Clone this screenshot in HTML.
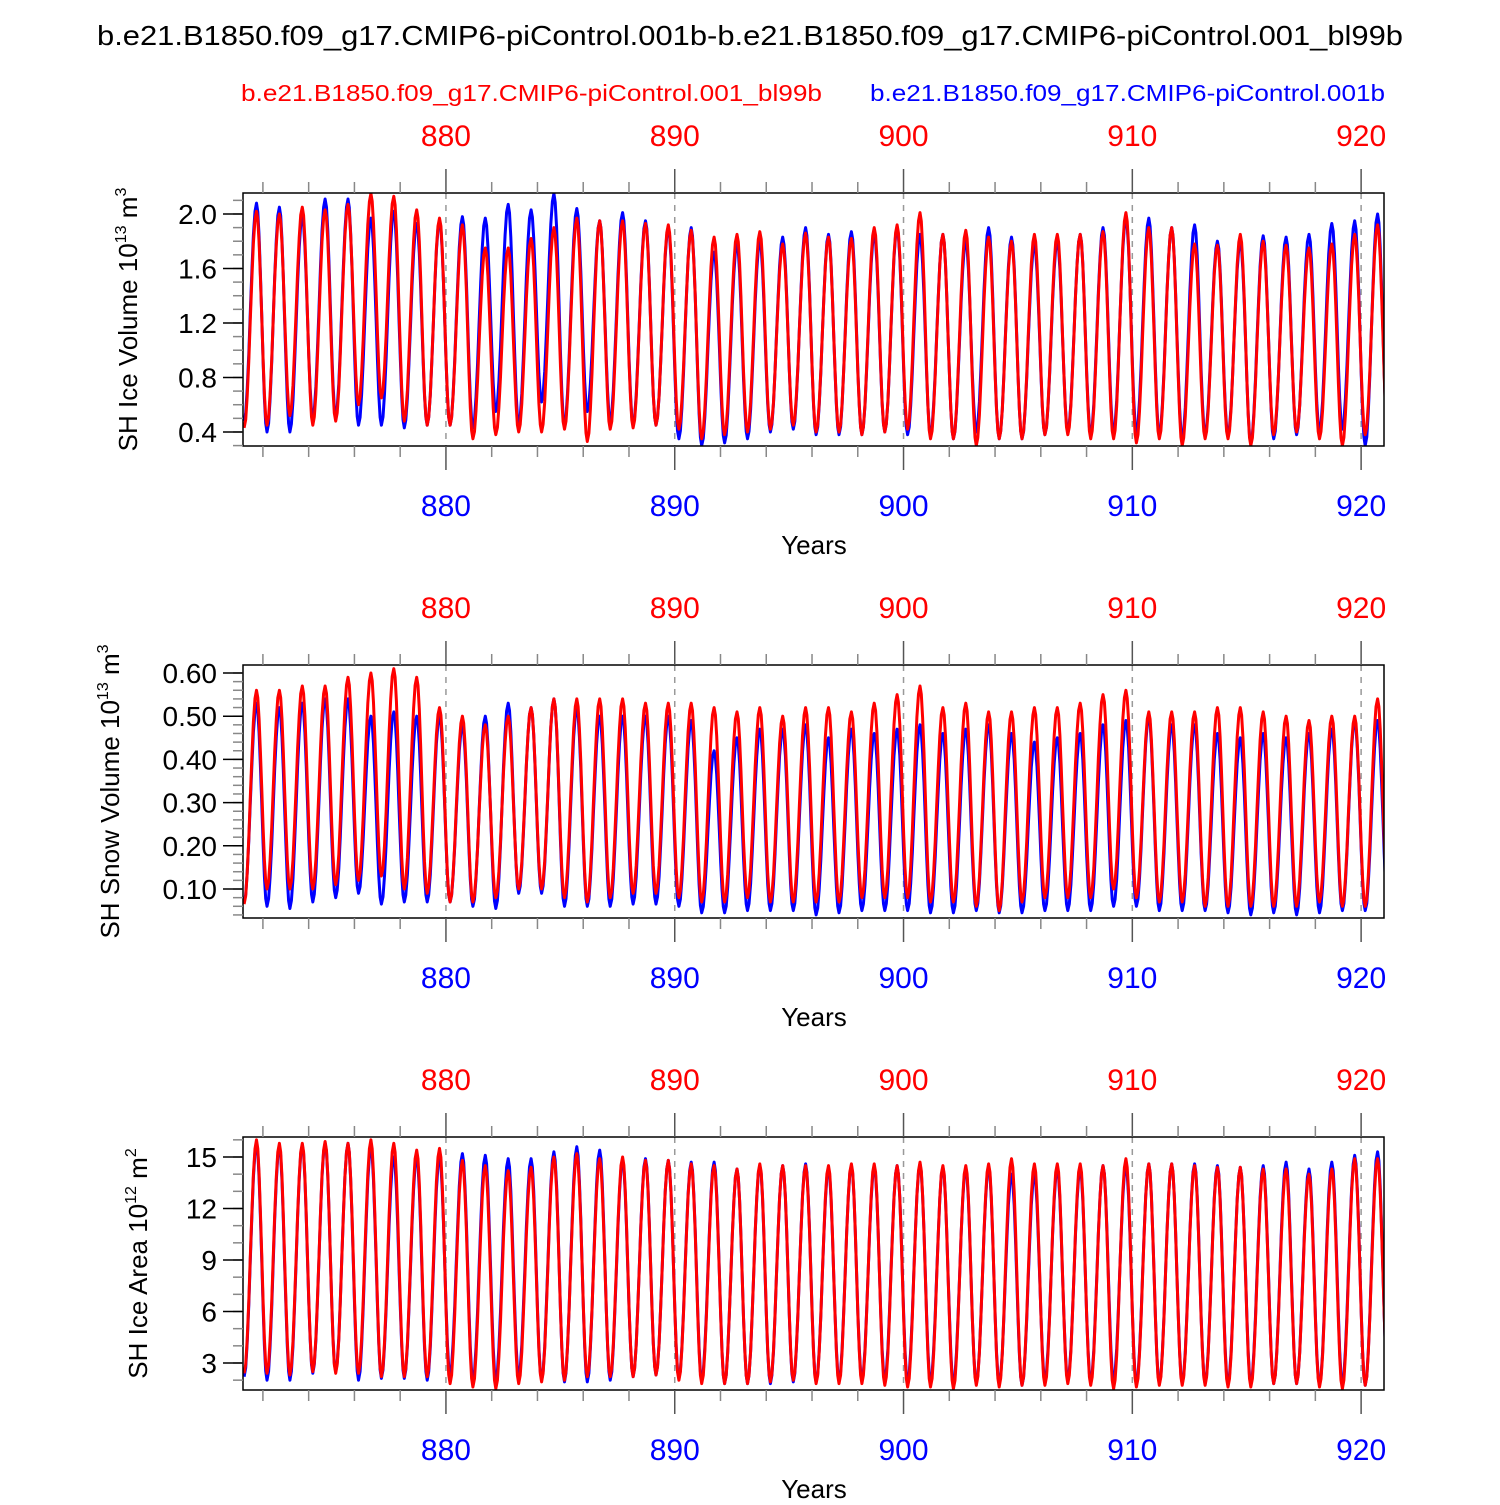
<!DOCTYPE html>
<html><head><meta charset="utf-8"><style>
body{margin:0;background:#fff;}
svg text{font-family:"Liberation Sans",Arial,sans-serif;}
</style></head><body>
<svg id="chart" width="1500" height="1500" viewBox="0 0 1500 1500" xmlns="http://www.w3.org/2000/svg">
<rect width="1500" height="1500" fill="#fff"/>
<text x="97" y="45" font-size="28" textLength="1306" lengthAdjust="spacingAndGlyphs">b.e21.B1850.f09_g17.CMIP6-piControl.001b-b.e21.B1850.f09_g17.CMIP6-piControl.001_bl99b</text>
<text x="241" y="101" font-size="23" fill="#ff0000" textLength="581" lengthAdjust="spacingAndGlyphs">b.e21.B1850.f09_g17.CMIP6-piControl.001_bl99b</text>
<text x="870" y="101" font-size="23" fill="#0000ff" textLength="515" lengthAdjust="spacingAndGlyphs">b.e21.B1850.f09_g17.CMIP6-piControl.001b</text>
<g id="panels"></g>
</svg>
<script>
// Panel 1: SH ice volume (yearly peaks 871..920, minima 871..921)
const iceVolBlueMax=[2.08,2.05,1.98,2.11,2.11,1.97,2.02,1.93,1.95,1.98,1.97,2.07,2.03,2.15,2.04,1.95,2.01,1.95,1.90,1.90,1.72,1.78,1.80,1.83,1.90,1.85,1.87,1.85,1.90,1.85,1.85,1.80,1.90,1.83,1.78,1.80,1.85,1.90,1.97,1.97,1.90,1.92,1.80,1.80,1.84,1.83,1.85,1.93,1.95,2.0];
const iceVolBlueMin=[0.48,0.40,0.40,0.50,0.52,0.45,0.45,0.43,0.45,0.45,0.43,0.55,0.45,0.62,0.45,0.55,0.48,0.45,0.45,0.35,0.30,0.32,0.35,0.40,0.42,0.38,0.38,0.38,0.40,0.38,0.38,0.35,0.40,0.35,0.35,0.38,0.40,0.38,0.40,0.40,0.38,0.35,0.38,0.38,0.32,0.35,0.38,0.40,0.42,0.30,0.32];
const iceVolRedMax=[2.02,2.0,2.05,2.03,2.07,2.15,2.13,2.03,1.97,1.92,1.75,1.75,1.82,1.90,1.97,1.95,1.95,1.93,1.92,1.88,1.83,1.85,1.87,1.78,1.86,1.83,1.82,1.90,1.92,2.01,1.85,1.88,1.83,1.80,1.85,1.85,1.85,1.87,2.01,1.90,1.90,1.78,1.77,1.85,1.80,1.77,1.75,1.78,1.85,1.92];
const iceVolRedMin=[0.43,0.45,0.52,0.45,0.48,0.60,0.65,0.48,0.45,0.45,0.35,0.38,0.40,0.40,0.42,0.33,0.42,0.43,0.45,0.42,0.35,0.38,0.40,0.42,0.45,0.40,0.40,0.38,0.40,0.42,0.35,0.35,0.30,0.35,0.35,0.38,0.38,0.35,0.35,0.32,0.35,0.30,0.35,0.35,0.30,0.38,0.40,0.35,0.30,0.38,0.32];
// Panel 2: SH snow volume
const snowBlueMax=[0.53,0.52,0.53,0.54,0.54,0.50,0.51,0.50,0.50,0.48,0.50,0.53,0.52,0.54,0.52,0.50,0.50,0.50,0.50,0.49,0.42,0.45,0.47,0.47,0.48,0.45,0.47,0.46,0.47,0.48,0.46,0.47,0.48,0.46,0.44,0.45,0.46,0.48,0.49,0.50,0.48,0.48,0.46,0.45,0.46,0.45,0.46,0.47,0.49,0.49];
const snowBlueMin=[0.07,0.06,0.055,0.07,0.08,0.09,0.065,0.07,0.07,0.07,0.06,0.055,0.09,0.09,0.06,0.06,0.06,0.065,0.065,0.06,0.045,0.045,0.05,0.05,0.05,0.04,0.045,0.05,0.05,0.05,0.045,0.045,0.05,0.045,0.045,0.05,0.05,0.05,0.06,0.06,0.05,0.05,0.05,0.045,0.04,0.045,0.04,0.045,0.05,0.05,0.045];
const snowRedMax=[0.56,0.56,0.57,0.57,0.59,0.60,0.61,0.59,0.52,0.50,0.48,0.50,0.52,0.54,0.54,0.54,0.54,0.53,0.53,0.53,0.52,0.51,0.52,0.50,0.52,0.52,0.51,0.53,0.55,0.57,0.52,0.53,0.51,0.51,0.52,0.52,0.53,0.55,0.56,0.51,0.51,0.51,0.52,0.52,0.51,0.50,0.49,0.50,0.50,0.54];
const snowRedMin=[0.065,0.10,0.10,0.10,0.11,0.12,0.13,0.10,0.09,0.07,0.07,0.08,0.10,0.10,0.08,0.07,0.08,0.09,0.09,0.08,0.07,0.07,0.08,0.07,0.07,0.07,0.07,0.08,0.08,0.08,0.07,0.07,0.06,0.05,0.07,0.08,0.08,0.08,0.10,0.08,0.07,0.07,0.06,0.06,0.06,0.06,0.06,0.07,0.06,0.06,0.07];
// Panel 3: SH ice area
const areaBlueMax=[15.8,15.6,15.7,15.8,15.8,15.6,15.0,15.0,15.0,15.2,15.1,14.9,14.9,15.3,15.6,15.4,14.8,14.9,14.8,14.7,14.7,14.3,14.5,14.5,14.6,14.3,14.5,14.4,14.5,14.6,14.4,14.3,14.4,14.0,14.0,14.3,14.3,14.5,14.5,14.6,14.6,14.6,14.5,14.4,14.5,14.7,14.3,14.7,15.1,15.3];
const areaBlueMin=[2.2,2.0,2.0,2.4,2.5,2.0,2.1,2.1,2.0,2.3,2.0,2.0,2.2,2.0,1.9,1.9,2.0,2.2,2.3,2.1,2.0,1.8,1.8,1.8,1.9,1.9,2.0,2.0,2.0,1.9,1.9,1.8,1.8,1.8,1.7,2.0,2.0,1.9,2.0,1.8,1.8,1.8,1.8,1.8,1.8,1.8,1.8,1.7,1.8,1.7,1.6];
const areaRedMax=[16.0,15.8,15.8,15.9,15.8,16.0,15.8,15.4,15.5,14.8,14.5,14.2,14.4,15.0,15.2,14.9,15.0,14.8,14.8,14.6,14.5,14.3,14.6,14.5,14.5,14.5,14.6,14.6,14.5,14.7,14.5,14.5,14.6,14.9,14.6,14.6,14.6,14.5,14.9,14.6,14.6,14.5,14.4,14.4,14.3,14.3,14.0,14.3,14.9,14.9];
const areaRedMin=[2.4,2.4,2.3,2.5,2.4,2.4,2.2,2.2,2.2,1.8,1.6,1.5,1.8,1.9,2.0,2.2,2.2,2.2,2.3,2.0,1.8,1.8,1.8,1.9,2.0,1.8,1.8,1.8,1.7,1.6,1.6,1.5,1.7,1.6,1.7,1.7,1.8,1.7,1.5,1.6,1.7,1.7,1.7,1.6,1.6,1.8,1.8,1.6,1.5,1.7,1.8];
const decadeTicks=[880,890,900,910,920];
const ticks1=["0.4","0.8","1.2","1.6","2.0"];
const ticks2=["0.10","0.20","0.30","0.40","0.50","0.60"];
const ticks3=["3","6","9","12","15"];

const NS="http://www.w3.org/2000/svg";
const X0=243,X1=1384,XMIN=871.13,XMAX=921.0;
function xs(t){return X0+(t-XMIN)/(XMAX-XMIN)*(X1-X0);}
function mk(tag,attrs,parent){const e=document.createElementNS(NS,tag);for(const k in attrs)e.setAttribute(k,attrs[k]);parent.appendChild(e);return e;}
const root=document.getElementById('panels');

const panels=[
 {top:193,bot:446,ymin:0.297,ymax:2.154,ticks:ticks1,minor:0.1,title:"SH Ice Volume 10",sup1:"13",unit:" m",sup2:"3",tx:137,
  blue:[iceVolBlueMax,iceVolBlueMin],red:[iceVolRedMax,iceVolRedMin],key:"ice-volume"},
 {top:665,bot:918,ymin:0.0329,ymax:0.6185,ticks:ticks2,minor:0.02,title:"SH Snow Volume 10",sup1:"13",unit:" m",sup2:"3",tx:119,
  blue:[snowBlueMax,snowBlueMin],red:[snowRedMax,snowRedMin],key:"snow-volume"},
 {top:1137,bot:1390,ymin:1.427,ymax:16.165,ticks:ticks3,minor:1,title:"SH Ice Area 10",sup1:"12",unit:" m",sup2:"2",tx:147,
  blue:[areaBlueMax,areaBlueMin],red:[areaRedMax,areaRedMin],key:"ice-area"}
];

panels.forEach(p=>{
 const g=mk('g',{},root);
 
 
 const ys=v=>p.bot-(v-p.ymin)/(p.ymax-p.ymin)*(p.bot-p.top);
 const clipId='clip-'+p.key;
 const cp=mk('clipPath',{id:clipId},g);
 mk('rect',{x:X0,y:p.top,width:X1-X0,height:p.bot-p.top},cp);
 decadeTicks.forEach(d=>{
  const l=mk('line',{x1:xs(d),x2:xs(d),y1:p.top,y2:p.bot,stroke:'#999','stroke-width':1.5,'stroke-dasharray':'6,6'},g);
  
  
 });
 [['blue','#0000ff'],['red','#ff0000']].forEach(([s,col])=>{
  const [mx,mn]=p[s];
  const ext=[];
  for(let i=0;i<mn.length;i++){
   ext.push([871+i+0.18,mn[i]]);
   if(i<mx.length) ext.push([871+i+0.72,mx[i]]);
  }
  let d='';
  for(let k=0;k<ext.length-1;k++){
   const [t0,v0]=ext[k],[t1,v1]=ext[k+1];
   for(let j=(k==0?0:1);j<=8;j++){
    const f=j/8,t=t0+(t1-t0)*f,v=v0+(v1-v0)*(1-Math.cos(Math.PI*f))/2;
    d+=(d?'L':'M')+xs(t).toFixed(1)+','+ys(v).toFixed(1);
   }
  }
  const path=mk('path',{d:d,fill:'none',stroke:col,'stroke-width':3,'stroke-linejoin':'round','clip-path':'url(#'+clipId+')'},g);
  
  
 });
 const fr=mk('rect',{x:X0,y:p.top,width:X1-X0,height:p.bot-p.top,fill:'none',stroke:'#000','stroke-width':1.5},g);
 
 
 for(let y=872;y<=920;y+=2){
  const major=y%10==0, L=major?24:11, x=xs(y);
  mk('line',{x1:x,x2:x,y1:p.top,y2:p.top-L,stroke:major?'#555':'#888','stroke-width':1.5},g);
  mk('line',{x1:x,x2:x,y1:p.bot,y2:p.bot+L,stroke:major?'#555':'#888','stroke-width':1.5},g);
 }
 decadeTicks.forEach(d=>{
  const t1=mk('text',{x:xs(d),y:p.top-47,'font-size':30,fill:'#ff0000','text-anchor':'middle'},g);
  t1.textContent=d;
  
  
  const t2=mk('text',{x:xs(d),y:p.bot+70,'font-size':30,fill:'#0000ff','text-anchor':'middle'},g);
  t2.textContent=d;
  
  
 });
 const xt=mk('text',{x:814,y:p.bot+108,'font-size':26,'text-anchor':'middle'},g);
 xt.textContent='Years';
 
 
 const n0=Math.ceil(p.ymin/p.minor-1e-6),n1=Math.floor(p.ymax/p.minor+1e-6);
 for(let n=n0;n<=n1;n++){
  const y=ys(n*p.minor);
  mk('line',{x1:X0,x2:X0-10,y1:y,y2:y,stroke:'#888','stroke-width':1.5},g);
 }
 p.ticks.forEach(tl=>{
  const v=parseFloat(tl),y=ys(v);
  mk('line',{x1:X0,x2:X0-20,y1:y,y2:y,stroke:'#000','stroke-width':1.5},g);
  const t=mk('text',{x:X0-26,y:y+10,'font-size':28,'text-anchor':'end'},g);
  t.textContent=tl;
  
  
 });
 const cy=(p.top+p.bot)/2;
 const yt=mk('text',{x:p.tx,y:cy,'font-size':26,'text-anchor':'middle',transform:'rotate(-90 '+p.tx+' '+cy+')'},g);
 
 
 const a=mk('tspan',{},yt);a.textContent=p.title;
 const b=mk('tspan',{'font-size':16,dy:-11},yt);b.textContent=p.sup1;
 const c=mk('tspan',{dy:11},yt);c.textContent=p.unit;
 const e=mk('tspan',{'font-size':16,dy:-11},yt);e.textContent=p.sup2;
});
</script>
</body></html>
